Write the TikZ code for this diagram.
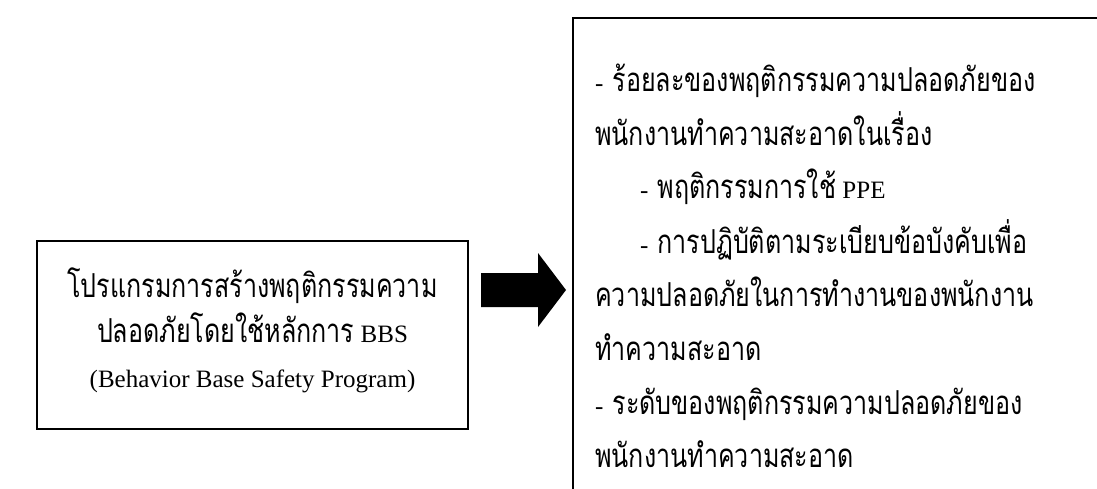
\documentclass[tikz,border=0pt]{standalone}
\usepackage{fontspec}
\setmainfont{Liberation Serif}
\newfontfamily\thai[Script=Thai,FakeStretch=0.76]{Loma}
\newcommand{\thtxt}[1]{{\thai\fontsize{33}{36}\selectfont #1}}
\newcommand{\dsh}{-\hspace{9pt}}
\begin{document}
\begin{tikzpicture}[x=1pt,y=-1pt,
  line/.style={anchor=base west,inner sep=0pt,font=\fontsize{25}{28}\selectfont},
  cline/.style={anchor=base,inner sep=0pt,font=\fontsize{25}{28}\selectfont},
  frame/.style={draw=black,line width=1.2pt}]
\useasboundingbox (0,0) rectangle (1097,489);
% left box
\node[frame,minimum width=431pt,minimum height=188pt,inner sep=0pt] (lbox) at (252.5,335) {};
\node[cline] (l1) at (252.5,297) {\thtxt{โปรแกรมการสร้างพฤติกรรมความ}};
\node[cline] (l2) at (252.5,342) {\thtxt{ปลอดภัยโดยใช้หลักการ} BBS};
\node[cline] (l3) at (252.5,387) {(Behavior Base Safety Program)};
% right box (open at right and bottom)
\coordinate (rtr) at (1100,18);
\coordinate (rtl) at (573,18);
\coordinate (rbl) at (573,492);
\draw[line width=1.2pt] (rtr) -- (rtl) -- (rbl);
% arrow
\coordinate (a0) at (481,290);
\fill[black] (a0) ++(0,-17) -- (538,273) -- (538,253) -- (566,290) -- (538,327) -- (538,307) -- (481,307) -- cycle;
% right text
\node[line] (r1) at (595,92) {\dsh\thtxt{ร้อยละของพฤติกรรมความปลอดภัยของ}};
\node[line] (r2) at (595,146) {\thtxt{พนักงานทำความสะอาดในเรื่อง}};
\node[line] (r3) at (640,199) {\dsh\thtxt{พฤติกรรมการใช้} PPE};
\node[line] (r4) at (640,253) {\dsh\thtxt{การปฏิบัติตามระเบียบข้อบังคับเพื่อ}};
\node[line] (r5) at (595,306) {\thtxt{ความปลอดภัยในการทำงานของพนักงาน}};
\node[line] (r6) at (595,360) {\thtxt{ทำความสะอาด}};
\node[line] (r7) at (595,414) {\dsh\thtxt{ระดับของพฤติกรรมความปลอดภัยของ}};
\node[line] (r8) at (595,467) {\thtxt{พนักงานทำความสะอาด}};
\end{tikzpicture}
\end{document}
